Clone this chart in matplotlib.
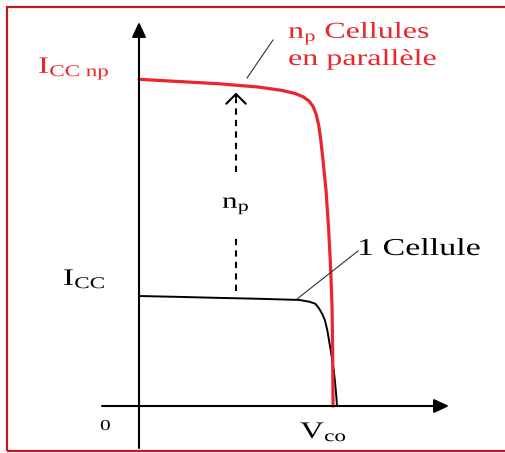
import numpy as np
import matplotlib
matplotlib.use("Agg")
import matplotlib.pyplot as plt
from matplotlib.patches import Rectangle
from matplotlib.patheffects import AbstractPathEffect
from matplotlib.transforms import Affine2D

plt.rcParams["font.family"] = ["Liberation Serif", "DejaVu Serif"]
plt.rcParams["mathtext.fontset"] = "custom"
plt.rcParams["mathtext.rm"] = "Liberation Serif"
plt.rcParams["mathtext.it"] = "Liberation Serif:italic"

RED = "#e8262b"

# I(V) curve of a single cell (V in units of Vco, I in units of Icc)
v_one = [0.0, 0.2, 0.4, 0.6, 0.81, 0.86, 0.89, 0.904, 0.915, 0.927, 0.939,
         0.952, 0.965, 0.975, 0.983, 0.99, 0.996, 1.0]
i_one = [1.0, 0.992, 0.983, 0.975, 0.964, 0.948, 0.93, 0.9, 0.87, 0.83, 0.78,
         0.68, 0.54, 0.43, 0.33, 0.22, 0.1, 0.0]

# np cells in parallel
v_par = [0.0, 0.2, 0.4, 0.6, 0.72, 0.79, 0.83, 0.86, 0.88, 0.895, 0.908, 0.918,
         0.929, 0.945, 0.958, 0.968, 0.975, 0.978, 0.98]
i_par = [2.97, 2.95, 2.93, 2.9, 2.87, 2.84, 2.81, 2.77, 2.72, 2.65, 2.55, 2.42,
         2.24, 1.95, 1.6, 1.25, 0.9, 0.5, 0.0]

# vertical dashed arrow (np multiplier)
arrow_v = 0.49
arrow_low = [1.05, 1.54]
arrow_high = [2.13, 2.85]


class Stretch(AbstractPathEffect):
    """Widen glyphs horizontally from the left edge of the text."""

    def __init__(self, sx):
        super().__init__()
        self.sx = sx

    def draw_path(self, renderer, gc, tpath, affine, rgbFace=None):
        renderer.draw_path(gc, tpath, Affine2D().scale(self.sx, 1.0) + affine,
                           rgbFace)


wide = [Stretch(1.4)]


def px(x):
    return (x - 139) / 198


def py(y):
    return (406 - y) / 110


fig = plt.figure(figsize=(5.05, 4.53), dpi=100)
ax = fig.add_axes([0, 0, 1, 1])
ax.set_xlim(px(0), px(505))
ax.set_ylim(py(453), py(0))
ax.axis("off")

# frame
fig.patches.append(Rectangle((7 / 505, 2 / 453), 1.05, (446 - 2) / 453,
                             transform=fig.transFigure, fill=False,
                             edgecolor="#c8161b", lw=1.6))

# axes with arrows
head = "-|>,head_length=0.9,head_width=0.42"
ax.annotate("", xy=(0, py(22)), xytext=(0, py(448)),
            arrowprops=dict(arrowstyle=head, color="black", lw=1.5,
                            shrinkA=0, shrinkB=0))
ax.annotate("", xy=(px(449), 0), xytext=(px(102), 0),
            arrowprops=dict(arrowstyle=head, color="black", lw=1.5,
                            shrinkA=0, shrinkB=0))

ax.plot(v_one, i_one, color="black", lw=1.4, solid_capstyle="round",
        solid_joinstyle="round")
ax.plot(v_par, i_par, color=RED, lw=2.3, solid_capstyle="round",
        solid_joinstyle="round")

# dashed arrow: two dashed pieces and an open head
dash = (0, (3, 2.5))
ax.plot([arrow_v, arrow_v], arrow_low, color="black", lw=1.5, ls=dash)
ax.plot([arrow_v, arrow_v], [arrow_high[0], arrow_high[1] - 0.06],
        color="black", lw=1.5, ls=dash)
ax.annotate("", xy=(arrow_v, arrow_high[1]),
            xytext=(arrow_v, arrow_high[1] - 0.05),
            arrowprops=dict(arrowstyle="->,head_length=0.7,head_width=0.7",
                            color="black", lw=1.5, shrinkA=0, shrinkB=0))
ax.text(px(222), py(208), r"n$_\mathrm{p}$", fontsize=16, va="baseline",
        path_effects=wide)

# leader lines
ax.plot([px(273), px(247)], [py(40), py(78)], color="#333333", lw=0.8)
ax.plot([px(358), px(297)], [py(251), py(299)], color="#333333", lw=0.8)

# labels
ax.text(px(288), py(38), r"n$_\mathrm{p}$ Cellules",
        color=RED, fontsize=16.5, va="baseline", path_effects=wide)
ax.text(px(288), py(65), "en parallèle",
        color=RED, fontsize=16.5, va="baseline", path_effects=wide)
ax.text(px(38), py(73), r"I$_\mathrm{CC\ np}$",
        color=RED, fontsize=17, va="baseline", path_effects=wide)
ax.text(px(63), py(285), r"I$_\mathrm{CC}$",
        color="black", fontsize=17, va="baseline", path_effects=wide)
ax.text(px(357), py(255), "1 Cellule",
        color="black", fontsize=17.5, va="baseline", path_effects=wide)
ax.text(px(100), py(430), "0",
        color="black", fontsize=11, va="baseline", path_effects=wide)
ax.text(px(300), py(438), r"V$_\mathrm{co}$",
        color="black", fontsize=17, va="baseline", path_effects=wide)

fig.savefig("out.png", dpi=100)
